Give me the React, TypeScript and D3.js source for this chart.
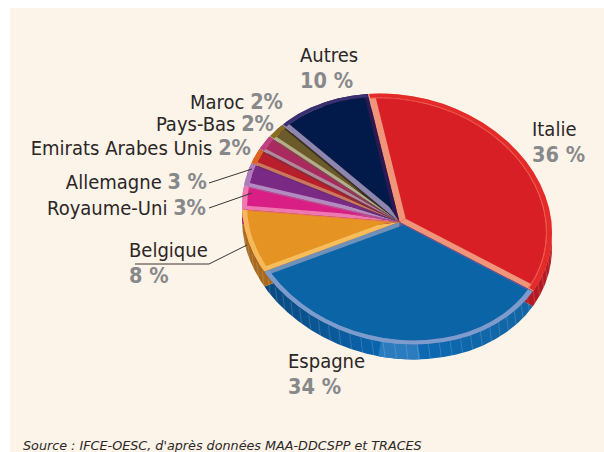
import React from "react";
import * as d3 from "d3";

const categories = ["Italie", "Espagne", "Belgique", "Royaume-Uni", "Allemagne", "Emirats Arabes Unis", "Pays-Bas", "Maroc", "Autres"];
const shares = [36, 34, 8, 3, 3, 2, 2, 2, 10];
const shareLabels = ["36 %", "34 %", "8 %", "3%", "3 %", "2%", "2%", "2%", "10 %"];

const faceColors = ["#d91f26", "#0a64a6", "#e59423", "#d91f85", "#7a2a85", "#b81f2a", "#a82a5f", "#6b5a2a", "#021a4a"];
const startBevel = ["#f0947a", "#5a5a9a", "#f7bd5c", "#ee78b0", "#b48ac0", "#c9785f", "#b08a9a", "#b5ad8a", "#8f86ae"];
const endBevel = ["#f0947a", "#6f90b8", "#ee7a3a", "#c04a90", "#6a2a7a", "#8a2a3a", "#8a4050", "#3a3020", "#2a1a50"];
const rimColors = ["#e52b2a", "#7b9ccc", "#f5b85a", "#ee78b0", "#b07abc", "#e0641f", "#c04080", "#8a6c20", "#3a2f70"];
const wallColors = ["#b51a22", "url(#wallBlue)", "#a8691f", "#a51a70", "#6a2a7a", "#a51f20", "#8a2050", "#5a4a20", "#2a2560"];
const insets = [[7, 7], [1.5, 5], [5, 1.5], [5, 1.5], [5, 1.5], [4, 2], [4, 2], [4, 2], [6, 4]];
const rimWidths = [5, 5, 5, 5, 5, 5, 5, 5, 4];

const WIDTH = 604;
const HEIGHT = 452;
const cx = 397;
const cy = 219;
const rx = 155;
const shear = 0.09; // the ellipse is tilted, lower on the right
const squash = 0.805;
const apexX = 2.5;
const apexY = 3.4;
const depth = 15;

const labelPos: Record<string, { x: number; y: number; stacked: boolean }> = {
  Italie: { x: 532, y: 136, stacked: true },
  Espagne: { x: 288, y: 368, stacked: true },
  Belgique: { x: 129, y: 257, stacked: true },
  "Royaume-Uni": { x: 206, y: 215, stacked: false },
  Allemagne: { x: 207, y: 189, stacked: false },
  "Emirats Arabes Unis": { x: 251, y: 155, stacked: false },
  "Pays-Bas": { x: 274, y: 131, stacked: false },
  Maroc: { x: 283, y: 109, stacked: false },
  Autres: { x: 300, y: 62, stacked: true },
};

const deg = (d: number) => (d * Math.PI) / 180;

// wedge reaching past the disc, the clip path cuts it to the ellipse
const wedge = (a0: number, a1: number) =>
  d3.arc()({ innerRadius: 0, outerRadius: rx * 2.2, startAngle: a0, endAngle: a1 }) ?? "";

// offset of a wedge apex so that its two edges sit s and e px inside the slice edges
const insetOffset = (a0: number, a1: number, s: number, e: number) => {
  const n0 = [Math.cos(a0), Math.sin(a0)];
  const n1 = [-Math.cos(a1), -Math.sin(a1)];
  const det = n0[0] * n1[1] - n0[1] * n1[0];
  return [(s * n1[1] - e * n0[1]) / det, (n0[0] * e - n1[0] * s) / det];
};

export default function App() {
  const arcs = d3.pie<number>().sort(null).startAngle(deg(-11.5)).endAngle(deg(348.5))(shares);
  const hatch = d3.range(92, 268, 4.2).map(deg);
  const ring = d3.arc();
  const fontFamily = "'DejaVu Sans Condensed', 'DejaVu Sans', sans-serif";
  const nameStyle = { fontFamily, fontStretch: "condensed", fontSize: 20, fill: "#2b2726" };
  const valueStyle = { fontFamily, fontStretch: "condensed", fontSize: 21.5, fontWeight: 700, fill: "#87888a" };
  return (
    <svg width={WIDTH} height={HEIGHT} style={{ position: "absolute", left: 0, top: 0 }}>
      <defs>
        <clipPath id="disc"><circle r={rx} /></clipPath>
        <linearGradient id="wallBlue" gradientUnits="userSpaceOnUse" x1={-rx} x2={rx} y1={0} y2={0}>
          <stop offset="0" stopColor="#0a4576" />
          <stop offset="0.5" stopColor="#0a69b5" />
          <stop offset="1" stopColor="#15659f" />
        </linearGradient>
      </defs>
      <rect x={10} y={8} width={WIDTH - 10} height={HEIGHT - 8} fill="#fcf3e9" />

      {/* side wall */}
      <g transform={`matrix(1,${shear},0,${squash},${cx},${cy + depth})`} clipPath="url(#disc)">
        {arcs.map((a, i) => (
          <path key={i} transform={`translate(${apexX},${apexY})`} d={wedge(a.startAngle, a.endAngle)} fill={wallColors[i]} />
        ))}
        <path d={wedge(deg(172), deg(188))} transform={`translate(${apexX},${apexY})`} fill="#2a7cbf" />
        {hatch.map((t, i) => (
          <line key={i} x1={Math.sin(t) * rx} x2={Math.sin(t) * rx - 2} y1={-Math.cos(t) * rx} y2={-Math.cos(t) * rx - depth / squash}
            stroke="#fff" strokeOpacity={0.22} strokeWidth={0.8} />
        ))}
      </g>

      {/* top face */}
      <g transform={`matrix(1,${shear},0,${squash},${cx},${cy})`}>
        <g clipPath="url(#disc)">
          {arcs.map((a, i) => {
            const mid = (a.startAngle + a.endAngle) / 2;
            return (
              <g key={i} transform={`translate(${apexX},${apexY})`}>
                <path d={wedge(a.startAngle, mid)} fill={startBevel[i]} />
                <path d={wedge(mid, a.endAngle)} fill={endBevel[i]} />
              </g>
            );
          })}
        </g>
        {arcs.map((a, i) => {
          const [ox, oy] = insetOffset(a.startAngle, a.endAngle, insets[i][0], insets[i][1]);
          return (
            <g key={i}>
              <clipPath id={`face${i}`}><circle r={rx - rimWidths[i]} /></clipPath>
              <g clipPath={`url(#face${i})`}>
                <path transform={`translate(${apexX + ox},${apexY + oy})`} d={wedge(a.startAngle, a.endAngle)} fill={faceColors[i]} />
              </g>
            </g>
          );
        })}
        {/* rim, and the thin light line inside it */}
        {arcs.map((a, i) => {
          const [ox, oy] = insetOffset(a.startAngle, a.endAngle, insets[i][0], insets[i][1]);
          return (
            <g key={i}>
              <clipPath id={`rim${i}`}>
                <path transform={`translate(${apexX + ox * 0.2},${apexY + oy * 0.2})`} d={wedge(a.startAngle, a.endAngle)} />
              </clipPath>
              <g clipPath={`url(#rim${i})`}>
                <path d={ring({ innerRadius: rx - rimWidths[i], outerRadius: rx, startAngle: 0, endAngle: 2 * Math.PI }) ?? ""} fill={rimColors[i]} />
                {i === 0 && (
                  <path d={ring({ innerRadius: rx - rimWidths[i] - 1, outerRadius: rx - rimWidths[i] - 0.2, startAngle: 0, endAngle: 2 * Math.PI }) ?? ""}
                    fill="#ef6a5a" />
                )}
              </g>
            </g>
          );
        })}
      </g>

      {categories.map((c, i) => {
        const p = labelPos[c];
        return p.stacked ? (
          <g key={c}>
            <text x={p.x} y={p.y} style={nameStyle}>{c}</text>
            <text x={p.x} y={p.y + 26} style={valueStyle}>{shareLabels[i]}</text>
          </g>
        ) : (
          <text key={c} x={p.x} y={p.y} textAnchor="end" style={nameStyle}>
            {c} <tspan style={valueStyle}>{shareLabels[i]}</tspan>
          </text>
        );
      })}
      <g stroke="#3a3535" strokeWidth={1} fill="none">
        <path d={d3.line()([[209, 183], [252, 169]]) ?? ""} />
        <path d={d3.line()([[209, 208], [252, 193]]) ?? ""} />
        <path d={d3.line()([[135, 264], [209, 264], [247, 245]]) ?? ""} />
      </g>
      <text x={23} y={450} style={{ fontFamily: "'DejaVu Sans', sans-serif", fontStyle: "italic", fontSize: 12.75, fill: "#2b2726" }}>
        Source : IFCE-OESC, d'après données MAA-DDCSPP et TRACES
      </text>
    </svg>
  );
}
